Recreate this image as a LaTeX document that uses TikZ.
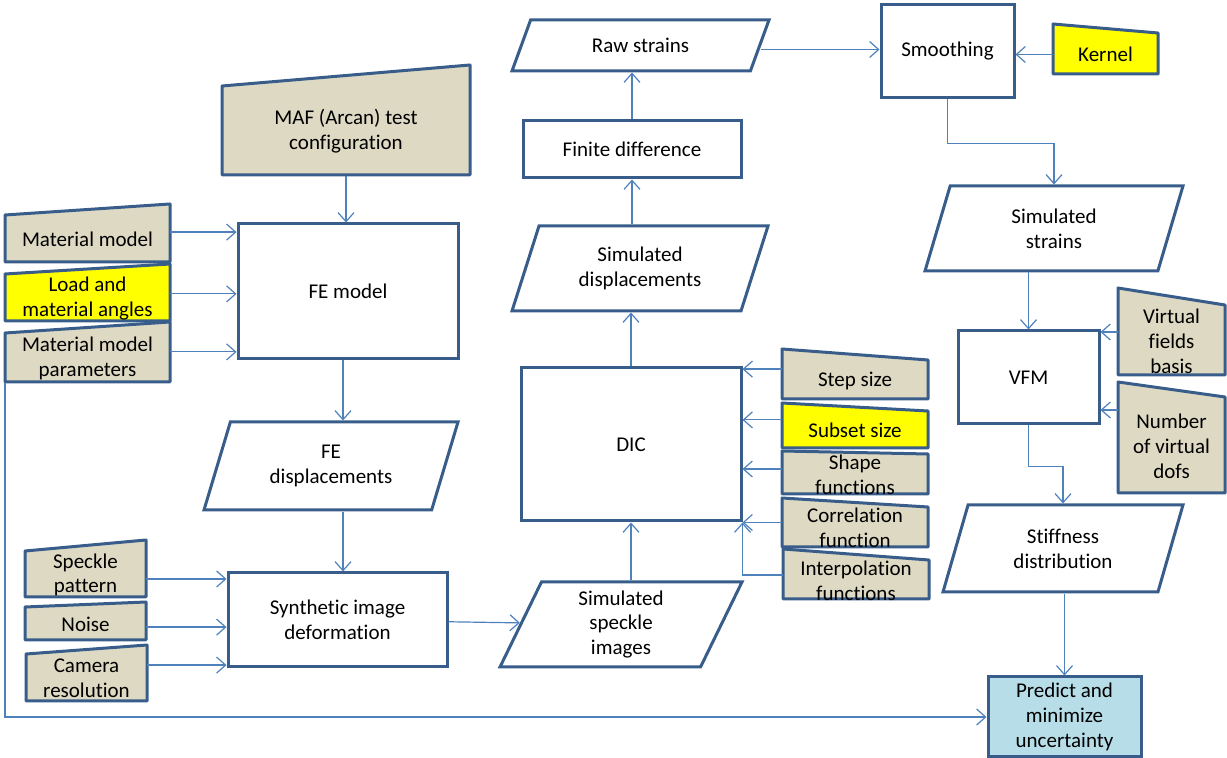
\documentclass[tikz,border=0pt]{standalone}
\usepackage{fontspec}
\setmainfont{Carlito}[Ligatures=NoCommon]
\usepackage{tikz}
\usetikzlibrary{arrows.meta,shapes.geometric}
\definecolor{BoxBlue}{HTML}{385D8A}
\definecolor{LineBlue}{HTML}{4F81BD}
\definecolor{Tan}{HTML}{DDD9C3}
\definecolor{PaleCyan}{HTML}{B7DEE8}
\definecolor{Yellow}{HTML}{FFFF00}

% manual input box: name, left, right, top-left y, top-right y, bottom y, fill, text
\newcommand{\manualbox}[8]{%
  \filldraw[inbox,fill=#7] (#2,#6) -- (#2,#4) -- (#3,#5) -- (#3,#6) -- cycle;
  \node[intext,minimum width={(#3-#2)*0.5pt},minimum height={(#6-max(#4,#5))*0.5pt}]
    (#1) at ({(#2+#3)/2},{(max(#4,#5)+#6)/2+1}) {#8};}

\begin{document}
\begin{tikzpicture}[
  x=0.5pt,y=-0.5pt,
  font=\fontsize{10.5}{12.4}\selectfont,
  box/.style={draw=BoxBlue,line width=1.5pt,fill=white,align=center,inner sep=1pt},
  data/.style={trapezium,trapezium left angle=60,trapezium right angle=120,trapezium stretches body,draw=BoxBlue,line width=1.5pt,fill=white,align=center,inner sep=1pt},
  inbox/.style={draw=BoxBlue,line width=1.5pt,line join=round},
  intext/.style={align=center,inner sep=0pt,outer sep=0pt},
  arrow/.style={-{Straight Barb[length=4.5pt,width=8pt]},line width=0.6pt,color=LineBlue}
]
\useasboundingbox (0,0) rectangle (1227,758);

% process boxes
\node[box,minimum width=110pt,minimum height=67.5pt] (fe) at (348,291.5) {FE model};
\node[box,minimum width=109.5pt,minimum height=47pt] (synth) at (337.5,620) {Synthetic image\\deformation};
\node[box,minimum width=110pt,minimum height=76.5pt] (dic) at (631,444.5) {DIC};
\node[box,minimum width=109pt,minimum height=28.5pt] (fd) at (632,149.5) {Finite difference};
\node[box,minimum width=66.5pt,minimum height=46.5pt] (smooth) at (947.5,51.5) {Smoothing};
\node[box,minimum width=70.5pt,minimum height=46.5pt] (vfm) at (1028.5,377.5) {VFM};
\node[box,fill=PaleCyan,minimum width=76.5pt,minimum height=40pt] (pred) at (1064.5,717) {Predict and\\minimize\\uncertainty};

% data
\node[data,trapezium left angle=45,trapezium right angle=135,minimum width=128.5pt,minimum height=25.5pt] (raw) at (640.5,45.5) {Raw strains};
\node[data,minimum width=128pt,minimum height=42.5pt] (simdisp) at (640,268.5) {Simulated\\displacements};
\node[data,minimum width=121pt,minimum height=42.5pt] (speck) at (621,624.5) {Simulated\\speckle\\images};
\node[data,minimum width=127pt,minimum height=44pt] (fed) at (331,466) {FE\\displacements};
\node[data,minimum width=129pt,minimum height=42.5pt] (simstr) at (1054,228.5) {Simulated\\strains};
\node[data,minimum width=120pt,minimum height=43.5pt] (stiff) at (1063,548.5) {Stiffness\\distribution};

% inputs
\manualbox{maf}{222}{470}{86}{65}{175}{Tan}{MAF (Arcan) test\\configuration}
\manualbox{matmod}{5}{170}{215}{204}{262}{Tan}{Material model}
\manualbox{load}{5}{170}{274}{264}{321}{Yellow}{Load and\\material angles}
\manualbox{matpar}{5}{170}{333}{322}{382}{Tan}{Material model\\parameters}
\manualbox{speckpat}{25}{146}{551}{540}{597}{Tan}{Speckle\\pattern}
\manualbox{noise}{25}{146}{607}{602}{640}{Tan}{Noise}
\manualbox{camera}{26}{147}{654}{645}{701}{Tan}{Camera\\resolution}
\manualbox{stepsize}{782}{928}{349}{360}{399}{Tan}{Step size}
\manualbox{subset}{782}{928}{403}{411}{448}{Yellow}{Subset size}
\manualbox{shapefn}{782}{928}{451}{454}{494}{Tan}{Shape\\functions}
\manualbox{corr}{782}{928}{498}{507}{547}{Tan}{Correlation\\function}
\manualbox{interp}{783}{929}{549}{560}{599}{Tan}{Interpolation\\functions}
\manualbox{kernel}{1053}{1158}{24}{33}{74}{Yellow}{Kernel}
\manualbox{vfb}{1118}{1225}{288}{305}{375}{Tan}{Virtual\\fields\\basis}
\manualbox{nvd}{1118}{1225}{382}{397}{493}{Tan}{Number\\of virtual\\dofs}

% connectors
\draw[arrow] (maf.south) -- (maf.south |- fe.north);
\draw[arrow] ([yshift=3.7pt]matmod.east) -- ([yshift=3.7pt]matmod.east -| fe.west);
\draw[arrow] ([yshift=2.3pt]load.east) -- ([yshift=2.3pt]load.east -| fe.west);
\draw[arrow] ([yshift=3.3pt]matpar.east) -- ([yshift=3.3pt]matpar.east -| fe.west);
\draw[arrow] (matpar.south west) |- (pred.west);
\draw[arrow] ([xshift=-2.5pt]fe.south) -- ([xshift=-2.5pt]fe.south |- fed.north);
\draw[arrow] ([xshift=2.75pt]synth.north |- fed.south) -- ([xshift=2.75pt]synth.north);
\draw[arrow] ([yshift=-2pt]speckpat.east) -- ([yshift=-2pt]speckpat.east -| synth.west);
\draw[arrow] ([yshift=-1.3pt]noise.east) -- ([yshift=-1.3pt]noise.east -| synth.west);
\draw[arrow] ([yshift=6.7pt]camera.east) -- ([yshift=6.7pt]camera.east -| synth.west);
\draw[arrow] (synth) -- (speck);
\draw[arrow] (speck.north -| dic) -- (dic.south);
\draw[arrow] ([yshift=5.7pt]stepsize.west) -- ([yshift=5.7pt]stepsize.west -| dic.east);
\draw[arrow] ([yshift=5.3pt]subset.west) -- ([yshift=5.3pt]subset.west -| dic.east);
\draw[arrow] ([yshift=3pt]shapefn.west) -- ([yshift=3pt]shapefn.west -| dic.east);
\draw[arrow] (corr.west |- dic.south east) -- (dic.south east);
\draw[arrow] ([yshift=2.7pt]interp.west) -| (dic.south east);
\draw[arrow] (dic.north) -- (dic.north |- simdisp.south);
\draw[arrow] (simdisp.north -| fd) -- (fd.south);
\draw[arrow] (fd.north) -- (fd.north |- raw.south);
\draw[arrow] ([yshift=-2pt]raw.east) -- ([yshift=-2pt]raw.east -| smooth.west);
\draw[arrow] (kernel.west) -- (kernel.west -| smooth.east);
\draw[arrow] (smooth.south) -- ++(0,44) -| (simstr.north);
\draw[arrow] (simstr.south -| vfm) -- (vfm.north);
\draw[arrow] ([yshift=4.5pt]vfb.west) -- ([yshift=4.5pt]vfb.west -| vfm.east);
\draw[arrow] ([yshift=18pt]nvd.west) -- ([yshift=18pt]nvd.west -| vfm.east);
\draw[arrow] (vfm.south) -- ++(0,41) -| (stiff.north);
\draw[arrow] (stiff.south -| pred) -- (pred.north);
\end{tikzpicture}
\end{document}
